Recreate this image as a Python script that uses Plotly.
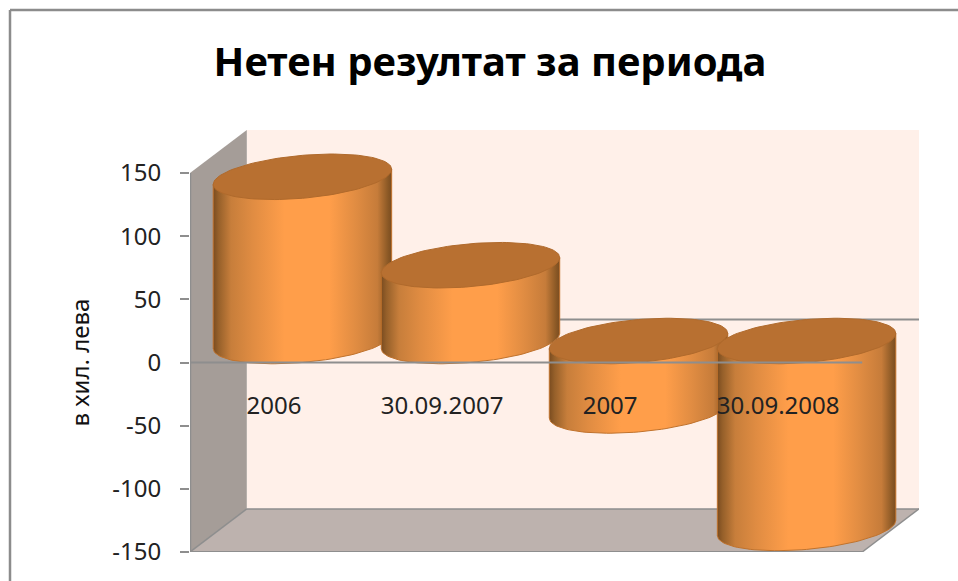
import numpy as np
import plotly.graph_objects as go

W, H = 958, 581
title = "Нетен резултат за периода"
y_title = "в хил. лева"
categories = ["2006", "30.09.2007", "2007", "30.09.2008"]
values = [130, 60, -55, -148]
y_ticks = [-150, -100, -50, 0, 50, 100, 150]
y_tick_labels = ["-150", "-100", "-50", "0", "50", "100", "150"]

# Projection of the 3D box onto the plane, in data units
DX, DY = 0.338, 34.1
X0, X1 = -0.5, 3.5
Y0, Y1 = -150, 150
# plot-area rectangle in pixels
PL, PR, PT, PB = 190, 919, 130, 552

FONT = "Noto Sans"
TXT = "#222222"
GRID = "#8E8E8E"
wall_back = "#FFF0E9"
wall_left = "#A59D98"
floor_col = "#BDB2AE"
top_col = "#B87031"
edge_col = "#C0722C"
body_scale = [
    [0.00, "#7A4C20"], [0.03, "#96602A"], [0.10, "#C77E3B"], [0.22, "#E08C42"],
    [0.40, "#FF9E4A"], [0.65, "#FF9E4A"], [0.80, "#E08C42"], [0.92, "#C67C3A"],
    [0.98, "#8A5825"], [1.00, "#7A4C20"],
]

A, B, SHEAR = 0.531, 17.0, 6.0  # cylinder ellipse semi-axes and tilt

fig = go.Figure()


def poly(xs, ys, color):
    fig.add_trace(go.Scatter(x=xs, y=ys, mode="lines", fill="toself", fillcolor=color,
                             line=dict(width=0), hoverinfo="skip", showlegend=False))


def line(xs, ys, color=GRID, width=2):
    fig.add_trace(go.Scatter(x=xs, y=ys, mode="lines", line=dict(color=color, width=width),
                             hoverinfo="skip", showlegend=False))


# walls and floor
poly([X0 + DX, X1 + DX, X1 + DX, X0 + DX, X0 + DX],
     [Y0 + DY, Y0 + DY, Y1 + DY, Y1 + DY, Y0 + DY], wall_back)
poly([X0, X0 + DX, X0 + DX, X0, X0], [Y0, Y0 + DY, Y1 + DY, Y1, Y0], wall_left)
poly([X0, X1, X1 + DX, X0 + DX, X0], [Y0, Y0, Y0 + DY, Y0 + DY, Y0], floor_col)
line([X0 + DX, X1 + DX], [Y0 + DY, Y0 + DY], width=1.5)
line([X1, X1 + DX], [Y0, Y0 + DY], width=1.5)
line([X0, X0 + DX], [Y0, Y0 + DY], width=1.5)
line([X0 + DX, X1 + DX], [DY, DY])  # zero line along the back wall

# cylinders
t = np.linspace(0, 2 * np.pi, 121)
half = np.linspace(np.pi, 2 * np.pi, 61)  # lower half of ellipse, left to right
for i, v in enumerate(values):
    cx = i + DX / 2
    cy0 = DY / 2
    hi, lo = max(v, 0) + cy0, min(v, 0) + cy0
    bx = cx + A * np.cos(half)
    by = lo + B * np.sin(half) + SHEAR * np.cos(half)
    xs = np.concatenate([bx, [cx + A, cx - A, bx[0]]])
    ys = np.concatenate([by, [hi + SHEAR, hi - SHEAR, by[0]]])
    fig.add_trace(go.Scatter(
        x=xs, y=ys, mode="lines", fill="toself",
        fillgradient=dict(type="horizontal", colorscale=body_scale),
        line=dict(color=edge_col, width=1), hoverinfo="skip", showlegend=False))
    tx = cx + A * np.cos(t)
    ty = hi + B * np.sin(t) + SHEAR * np.cos(t)
    fig.add_trace(go.Scatter(x=tx, y=ty, mode="lines", fill="toself", fillcolor=top_col,
                             line=dict(color="#B06A2C", width=1), hoverinfo="skip", showlegend=False))

# front zero line and value axis
line([X0, X1], [0, 0])
line([X0, X0], [Y0, Y1], width=2.5)
line([X0, X1], [Y0, Y0], width=2)

dom_x = [PL / W, PR / W]
dom_y = [1 - PB / H, 1 - PT / H]
fig.update_layout(
    width=W, height=H, margin=dict(l=0, r=0, t=0, b=0),
    paper_bgcolor="white", plot_bgcolor="white", showlegend=False,
    font=dict(family=FONT, color=TXT, size=24),
    title=dict(text=f"<b>{title}</b>", x=490 / W, xanchor="center", y=1 - 62 / H, yanchor="middle",
               font=dict(family=FONT, size=40, color="#000000")),
    xaxis=dict(domain=dom_x, range=[X0, X1 + DX], automargin=False,
               showgrid=False, zeroline=False, showline=False,
               tickmode="array", tickvals=list(range(len(categories))), ticktext=categories,
               ticks="outside", ticklen=21, tickcolor="rgba(0,0,0,0)",
               anchor="free", position=1 - 363 / H,
               tickfont=dict(family=FONT, size=24, color=TXT)),
    yaxis=dict(domain=dom_y, range=[Y0, Y1 + DY], automargin=False,
               showgrid=False, zeroline=False, showline=False,
               tickmode="array", tickvals=y_ticks, ticktext=y_tick_labels,
               ticks="outside", ticklen=9, tickwidth=2,
               ticklabelstandoff=14,
               tickcolor=GRID, tickfont=dict(family=FONT, size=24, color=TXT)),
    annotations=[dict(text=y_title, textangle=-90, xref="paper", yref="y", x=80 / W, y=0,
                      xanchor="center", yanchor="middle", showarrow=False,
                      font=dict(family=FONT, size=24, color="#111111"))],
    shapes=[
        dict(type="line", xref="paper", yref="paper", x0=10 / W, x1=1, y0=1 - 10 / H, y1=1 - 10 / H,
             line=dict(color="#8C8C8C", width=2.5)),
        dict(type="line", xref="paper", yref="paper", x0=10 / W, x1=10 / W, y0=0, y1=1 - 10 / H,
             line=dict(color="#8C8C8C", width=2.5)),
    ],
)
fig.write_html("out.html", config={"displayModeBar": False},
               post_script="document.body.style.margin='0';document.body.style.overflow='hidden';")
